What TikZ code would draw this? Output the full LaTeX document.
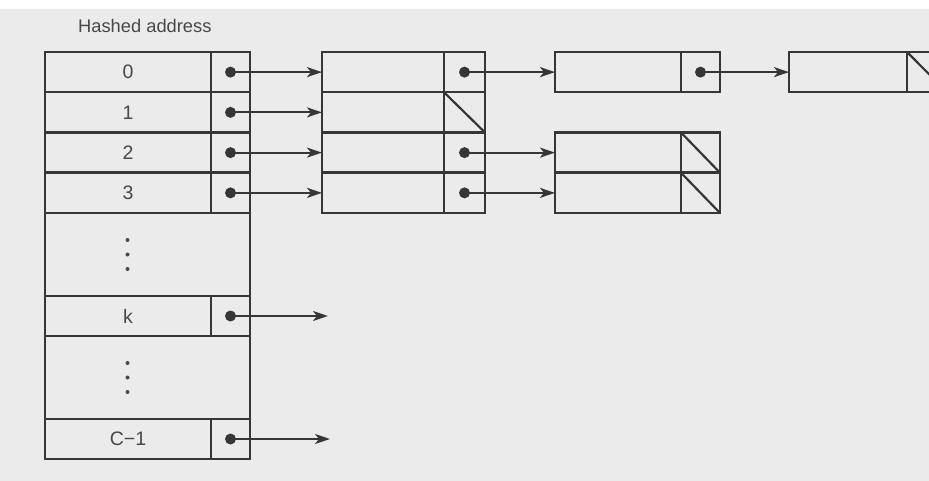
\documentclass[tikz,border=0pt]{standalone}
\usepackage{fontspec}
\setmainfont{Liberation Sans}
\usetikzlibrary{arrows.meta}
\definecolor{ink}{HTML}{363636}
\definecolor{paper}{HTML}{EBEBEB}
\definecolor{txt}{HTML}{484848}
\begin{document}
\begin{tikzpicture}[x=1pt,y=-1pt,
  cell/.style={draw=ink, line width=2.5pt, minimum height=40.25pt, inner sep=0pt, outer sep=0pt,
    anchor=north west, font=\fontsize{19.5}{19.5}\selectfont, text=txt},
  keycell/.style={cell, minimum width=166pt},
  ptrcell/.style={cell, minimum width=39pt},
  gapcell/.style={cell, minimum width=205pt, minimum height=83pt},
  link/.style={draw=ink, line width=2pt, -{Stealth[length=15pt,width=10pt,inset=4pt]}},
  nil/.style={draw=ink, line width=2.2pt},
  pdot/.style={fill=ink},
  vdot/.style={fill=txt}]
\useasboundingbox (0,0) rectangle (929,481);
\fill[paper] (0,0) rectangle (929,481);
\fill[white] (0,0) rectangle (929,9);
\begin{scope}
\clip (0,0) rectangle (929,481);
\node[font=\fontsize{18.3}{18.3}\selectfont, text=txt, anchor=base west, inner sep=0pt] (title) at (78,33) {Hashed address};
% hash table
\foreach \i/\y in {0/52, 1/92.25, 2/132.5, 3/172.75}{
  \node[keycell] (h\i) at (45,\y) {\i};
  \node[ptrcell] (p\i) at (h\i.north east) {};
}
\node[gapcell] (g1) at (45,213) {};
\node[keycell, minimum height=40pt] (hk) at (45,296) {k};
\node[ptrcell, minimum height=40pt] (pk) at (hk.north east) {};
\node[gapcell] (g2) at (45,336) {};
\node[keycell, minimum height=40pt] (hc) at (45,419) {C−1};
\node[ptrcell, minimum height=40pt] (pc) at (hc.north east) {};
\foreach \d in {-14.5,0,14.5}{
  \fill[vdot] ([yshift=\d*-1pt]g1.center) ++(-20,0) circle (2);
  \fill[vdot] ([yshift=\d*-1pt]g2.center) ++(-20,0) circle (2);
}
% first chain column
\foreach \i/\y in {0/52, 1/92.25, 2/132.5, 3/172.75}{
  \node[cell, minimum width=122pt] (c\i) at (322,\y) {};
  \node[cell, minimum width=41pt] (q\i) at (c\i.north east) {};
}
% second chain column
\foreach \i/\y in {0/52, 2/132.5, 3/172.75}{
  \node[cell, minimum width=126pt] (d\i) at (555,\y) {};
  \node[ptrcell] (r\i) at (d\i.north east) {};
}
% third chain column
\node[cell, minimum width=118pt] (e0) at (789,52) {};
\node[cell, minimum width=40pt] (s0) at (e0.north east) {};
% free ends
\coordinate (kend) at (328,316);
\coordinate (cend) at (330,439);
% links
\foreach \i in {0,1,2,3}{
  \draw[link] (p\i.center) -- (c\i.west);
  \fill[pdot] (p\i.center) circle (5.5);
}
\draw[link] (pk.center) -- (kend);
\fill[pdot] (pk.center) circle (5.5);
\draw[link] (pc.center) -- (cend);
\fill[pdot] (pc.center) circle (5.5);
\foreach \i in {0,2,3}{
  \draw[link] (q\i.center) -- (d\i.west);
  \fill[pdot] (q\i.center) circle (5.5);
}
\draw[link] (r0.center) -- (e0.west);
\fill[pdot] (r0.center) circle (5.5);
% null pointers
\draw[nil] (q1.north west) -- (q1.south east);
\draw[nil] (r2.north west) -- (r2.south east);
\draw[nil] (r3.north west) -- (r3.south east);
\draw[nil] (s0.north west) -- (s0.south east);
\end{scope}
\end{tikzpicture}
\end{document}
